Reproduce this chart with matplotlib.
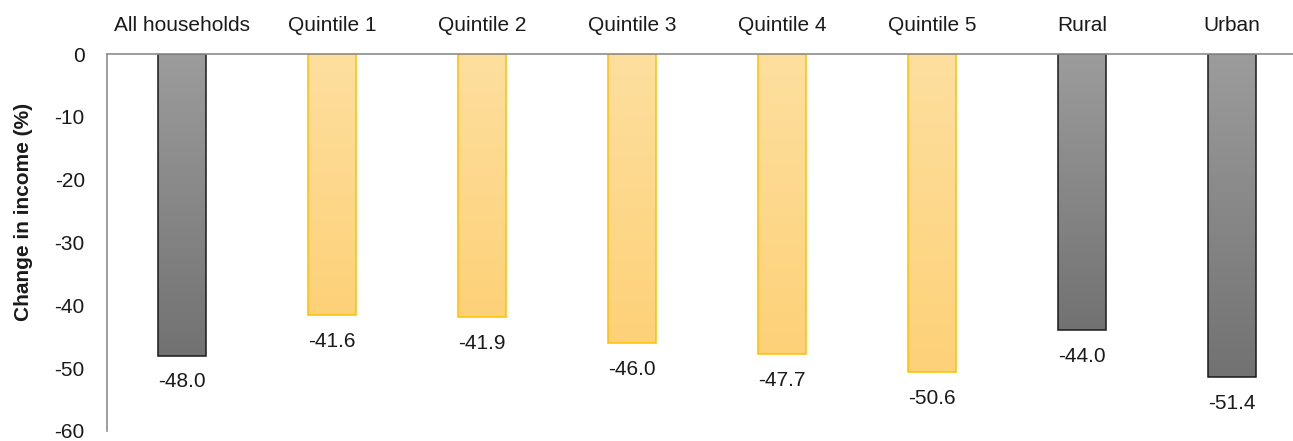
import numpy as np
import matplotlib.pyplot as plt
from matplotlib.colors import LinearSegmentedColormap

categories = ['All households', 'Quintile 1', 'Quintile 2', 'Quintile 3',
              'Quintile 4', 'Quintile 5', 'Rural', 'Urban']
values = [-48.0, -41.6, -41.9, -46.0, -47.7, -50.6, -44.0, -51.4]
groups = ['grey', 'gold', 'gold', 'gold', 'gold', 'gold', 'grey', 'grey']

plt.rcParams['font.family'] = ['Liberation Sans', 'DejaVu Sans']
plt.rcParams['axes.unicode_minus'] = False

styles = {
    'grey': (['#9c9c9c', '#727272'], '#1a1a1a'),
    'gold': (['#fedf9f', '#fdd178'], '#ffc000'),
}

fig = plt.figure(figsize=(12.93, 4.41), dpi=100)
ax = fig.add_axes([107 / 1293, 10 / 441, 1200 / 1293, 377 / 441])

x = np.arange(len(categories))
bars = ax.bar(x, values, width=0.32, color='none', zorder=2)
grad = np.linspace(0, 1, 256).reshape(-1, 1)
for b, g, v in zip(bars, groups, values):
    cols, edge = styles[g]
    cmap = LinearSegmentedColormap.from_list(g, cols)
    x0, w = b.get_x(), b.get_width()
    im = ax.imshow(grad, cmap=cmap, aspect='auto', extent=(x0, x0 + w, v, 0),
                   origin='upper', zorder=1)
    im.set_clip_path(b)
    b.set_edgecolor(edge)
    b.set_linewidth(1.1)
    ax.annotate(f'{v:.1f}', (b.get_x() + w / 2, v), xytext=(0, -19),
                textcoords='offset points', ha='center', va='center',
                fontsize=15, color='#1a1a1a')

ax.set_xlim(-0.5, len(categories) - 0.5)
ax.set_ylim(-60, 0)
ax.set_yticks(range(-60, 1, 10))
ax.set_xticks(x)
ax.set_xticklabels(categories)
ax.xaxis.tick_top()
ax.tick_params(axis='x', length=0, pad=14, labelsize=15, colors='#1a1a1a')
ax.tick_params(axis='y', length=0, pad=16, labelsize=15, colors='#1a1a1a')
ax.set_ylabel('Change in income (%)', fontsize=15, fontweight='bold',
              color='#1a1a1a')
ax.yaxis.set_label_coords(-0.062, 0.581)

for s in ['right', 'bottom']:
    ax.spines[s].set_visible(False)
for s in ['left', 'top']:
    ax.spines[s].set_color('#8c8c8c')
    ax.spines[s].set_linewidth(1.2)

fig.savefig('out.png', dpi=100)
